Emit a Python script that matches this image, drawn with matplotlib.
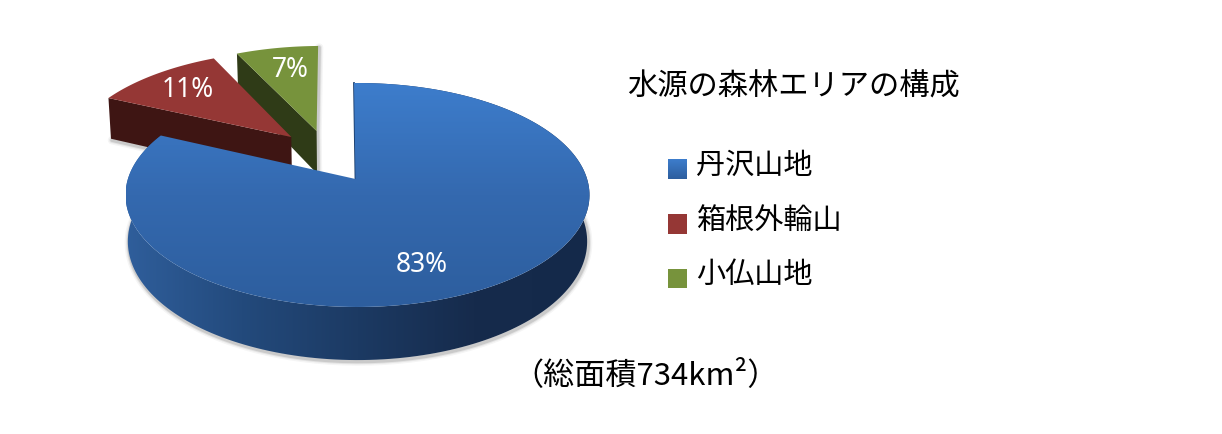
import numpy as np
import matplotlib
matplotlib.use("Agg")
import matplotlib.pyplot as plt
from matplotlib.patches import Polygon, Patch
from matplotlib.colors import LinearSegmentedColormap as LSC

plt.rcParams['font.family'] = ['Noto Sans CJK JP', 'DejaVu Sans']

# data
categories = ['丹沢山地', '箱根外輪山', '小仏山地']
values = [83, 11, 7]
pct_labels = ['83%', '11%', '7%']
title = '水源の森林エリアの構成'
note = '（総面積734km²）'

# style / layout
top_colors = ['#3768B0', '#953735', '#77933C']
wall_colors = ['#1C3A63', '#3E1513', '#2F3B17']
offsets = [(0, 0), (-0.305, 0.405), (-0.190, 0.467)]
label_pos = [(422, 265), (188, 90), (290, 70)]
AX, AY, RX, RY, P, DEPTH = 357.5, 180, 229.6, 109.7, 1 / 7, 45.5
ROT = -1.0
BLUE_APEX_DX = -2


def project(u, v):
    w = 1 + P * v
    return AX + RX * u / w, AY - RY * v / w


def project_bottom(u, v):
    x, y = project(u, v)
    return AX + (x - AX) * 0.99, y + DEPTH / (1 + P * v)


def arc(a0, a1, off, f=project, n=200):
    t = np.radians(np.linspace(a0, a1, n))
    return np.column_stack(f(off[0] + np.sin(t), off[1] + np.cos(t)))


fig = plt.figure(figsize=(12.22, 4.35), dpi=100)
ax = fig.add_axes([0, 0, 1, 1])
ax.axis('off')

bounds = ROT + 360 * np.concatenate([[0], np.cumsum(values)]) / np.sum(values)
spans = list(zip(bounds[:-1], bounds[1:]))
green_span, red_span, blue_span = spans[2], spans[1], spans[0]


def shadow(pts, z):
    for lw, al in [(6, .06), (4, .1), (2.5, .18)]:
        ax.plot(pts[:, 0] + 1, pts[:, 1] + 1.5, color='#555555', lw=lw, alpha=al,
                solid_capstyle='round', zorder=z)


def wedge_faces(span, off, i, z):
    apex = np.array(project(*off))[None, :]
    apex_b = np.array(project_bottom(*off))[None, :]
    a = arc(span[0], span[1], off)
    b = arc(span[0], span[1], off, project_bottom)
    # cut face along the leading radial edge
    face = np.vstack([a[:1], apex, apex_b, b[:1]])
    ax.add_patch(Polygon(face, fc=wall_colors[i], ec='none', zorder=z + .1))
    ax.add_patch(Polygon(np.vstack([apex, a]), fc=top_colors[i], ec='none', zorder=z + .2))
    return a, b, apex, apex_b


# green slice (back)
a, b, apex, apex_b = wedge_faces(green_span, offsets[2], 2, 2)
shadow(np.vstack([a[-1:], apex, apex_b]), 1)
# red slice
a, b, apex, apex_b = wedge_faces(red_span, offsets[1], 1, 3)
shadow(np.vstack([b[:1], apex_b]), 2.9)

# blue slice: wall with horizontal shading, top with vertical shading
a = arc(blue_span[0], blue_span[1], offsets[0])
b = arc(blue_span[0], blue_span[1], offsets[0], project_bottom)
shadow(b[(b[:, 1] > 190)], 4)
wall = Polygon(np.vstack([a, b[::-1]]), fc='none', ec='none', zorder=5)
ax.add_patch(wall)
wall_cmap = LSC.from_list('wall', ['#2F5E9B', '#234A7C', '#1C3A63', '#162B4C', '#14294A'])
xmin, xmax, ymin, ymax = a[:, 0].min(), a[:, 0].max(), a[:, 1].min(), a[:, 1].max()
im = ax.imshow(np.linspace(0, 1, 256)[None, :], cmap=wall_cmap, aspect='auto',
               extent=[xmin, xmax, ymax + 60, ymin], zorder=5)
im.set_clip_path(wall)

apex = np.array(project(*offsets[0]))[None, :] + [BLUE_APEX_DX, 0]
top = Polygon(np.vstack([apex, a]), fc='none', ec='none', zorder=6)
ax.add_patch(top)
top_cmap = LSC.from_list('top', ['#3D7DCC', '#3469AF', '#2D5E9E'])
im = ax.imshow(np.linspace(0, 1, 256)[:, None], cmap=top_cmap, aspect='auto',
               extent=[xmin, xmax, ymax, ymin], zorder=6)
im.set_clip_path(top)
ax.plot([a[0, 0], apex[0, 0]], [a[0, 1], apex[0, 1]], color='#1C3F6E', lw=1.3, zorder=5.5)

ax.set_xlim(0, 1222)
ax.set_ylim(435, 0)

for (x, y), s in zip(label_pos, pct_labels):
    ax.text(x, y, s, color='white', fontsize=19, ha='center', va='center',
            family=['Noto Sans', 'DejaVu Sans'], zorder=10)

ax.text(794, 87, title, fontsize=21.8, ha='center', va='center', color='black', zorder=10)
ax.text(646, 376, note, fontsize=22.4, ha='center', va='center', color='black', zorder=10)

handles = [Patch(fc=c, ec='none') for c in ['#3469AF', top_colors[1], top_colors[2]]]
leg = ax.legend(handles, categories, loc='upper left', bbox_to_anchor=(668.5 / 1222, 1 - 151 / 435),
                frameon=False, fontsize=21, labelspacing=0.84, handlelength=0.63,
                handleheight=0.65, handletextpad=0.33, borderpad=0, borderaxespad=0,
                labelcolor='black')
for h in leg.legend_handles:
    h.set_y(h.get_y() - 4.7)
fig.canvas.draw()
h = leg.legend_handles[0]
bb = h.get_window_extent().transformed(ax.transData.inverted())
xs = sorted([bb.x0, bb.x1]); ys = sorted([bb.y0, bb.y1])
ax.imshow(np.linspace(0, 1, 64)[:, None], cmap=LSC.from_list('lg', ['#3D7DCC', '#2D5E9E']),
          aspect='auto', extent=[xs[0], xs[1], ys[1], ys[0]], zorder=20)
ax.set_xlim(0, 1222)
ax.set_ylim(435, 0)

fig.savefig('out.png', dpi=100, facecolor='white')
